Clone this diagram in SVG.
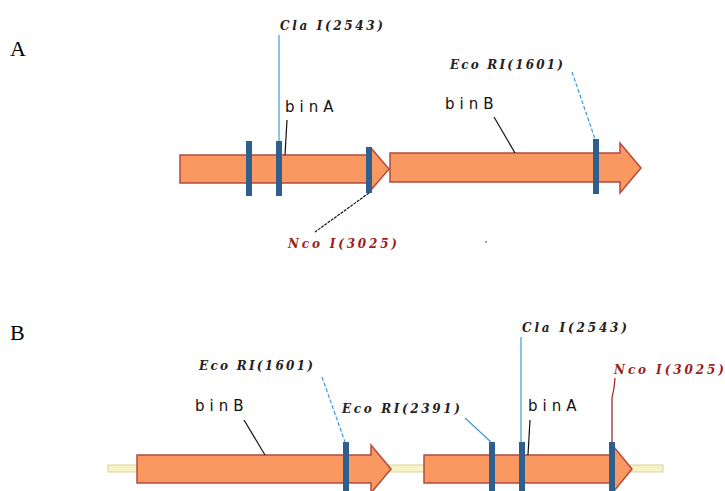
<svg xmlns="http://www.w3.org/2000/svg" width="725" height="491" viewBox="0 0 725 491">
<defs>
<style>
.arrow{fill:#FA9862;stroke:#B24A3E;stroke-width:1.5}
.site{fill:#2F5F8F}
.bb{fill:#F8F3C6;stroke:#D9D19A;stroke-width:1}
.enz{font-family:"DejaVu Serif",serif;font-size:12px;font-weight:bold;font-style:italic;fill:#222}
.enzr{font-family:"DejaVu Serif",serif;font-size:12px;font-weight:bold;font-style:italic;fill:#9B1E1E}
.gene{font-family:"DejaVu Sans",sans-serif;font-size:15px;fill:#111;letter-spacing:5px}
.panel{font-family:"Liberation Serif",serif;font-size:22px;fill:#000}
.lblue{stroke:#3A9AD8;stroke-width:1.2;fill:none}
.lblued{stroke:#3A9AD8;stroke-width:1.2;fill:none;stroke-dasharray:4 2}
.lblack{stroke:#111;stroke-width:1.2;fill:none}
.lred{stroke:#9B1E1E;stroke-width:1.2;fill:none}
</style>
</defs>
<rect width="725" height="491" fill="#fff"/>
<text class="panel" x="10" y="56">A</text>
<text class="panel" x="10" y="340">B</text>

<g id="backboneB">
<rect class="bb" x="108" y="465" width="555" height="7"/>
</g>

<g id="binA-A">
<polygon class="arrow" points="180,155 371,155 371,148 389,169 371,190 371,183 180,183"/>
</g>
<g id="binB-A">
<polygon class="arrow" points="390,153 620,153 620,143 641,168 620,193 620,182 390,182"/>
</g>
<g id="binB-B">
<polygon class="arrow" points="137,455 371,455 371,445 391,469 371,493 371,483 137,483"/>
</g>
<g id="binA-B">
<polygon class="arrow" points="424,455 614,455 614,447 632,469 614,491 614,483 424,483"/>
</g>

<g id="sites">
<rect class="site" x="246" y="141" width="6" height="55"/>
<rect class="site" x="276" y="141" width="6" height="55"/>
<rect class="site" x="366" y="147" width="6" height="46"/>
<rect class="site" x="593" y="139" width="6" height="55"/>
<rect class="site" x="343" y="442" width="6" height="49"/>
<rect class="site" x="489" y="442" width="6" height="49"/>
<rect class="site" x="519" y="442" width="6" height="49"/>
<rect class="site" x="609" y="442" width="6" height="49"/>
</g>

<g id="connectors">
<line class="lblue" x1="279" y1="35" x2="279" y2="141"/>
<line class="lblack" x1="287" y1="120" x2="285" y2="155"/>
<line class="lblack" x1="369" y1="193" x2="315" y2="232" stroke-dasharray="3 1"/>
<line class="lblued" x1="572" y1="72" x2="595" y2="139"/>
<line class="lblack" x1="494" y1="117" x2="515" y2="153"/>
<line class="lblued" x1="322" y1="377" x2="345" y2="442"/>
<line class="lblack" x1="244" y1="420" x2="265" y2="455"/>
<line class="lblue" x1="465" y1="418" x2="491" y2="442"/>
<line class="lblue" x1="521" y1="337" x2="521" y2="442"/>
<line class="lblack" x1="530" y1="420" x2="528" y2="455"/>
<polyline class="lred" points="615,378 614,388 612,398 612,442"/>
</g>

<g id="labels">
<text class="enz" x="280" y="30" textLength="103">Cla I(2543)</text>
<text class="gene" x="285" y="112">binA</text>
<text class="enzr" x="288" y="248" textLength="109">Nco I(3025)</text>
<text class="enz" x="450" y="69" textLength="113">Eco RI(1601)</text>
<text class="gene" x="445" y="109">binB</text>
<circle cx="486" cy="242" r="0.8" fill="#333"/>
<text class="enz" x="199" y="370" textLength="114">Eco RI(1601)</text>
<text class="gene" x="195" y="411">binB</text>
<text class="enz" x="342" y="413" textLength="118">Eco RI(2391)</text>
<text class="enz" x="522" y="332" textLength="105">Cla I(2543)</text>
<text class="enzr" x="614" y="374" textLength="110">Nco I(3025)</text>
<text class="gene" x="528" y="411">binA</text>
</g>
</svg>
